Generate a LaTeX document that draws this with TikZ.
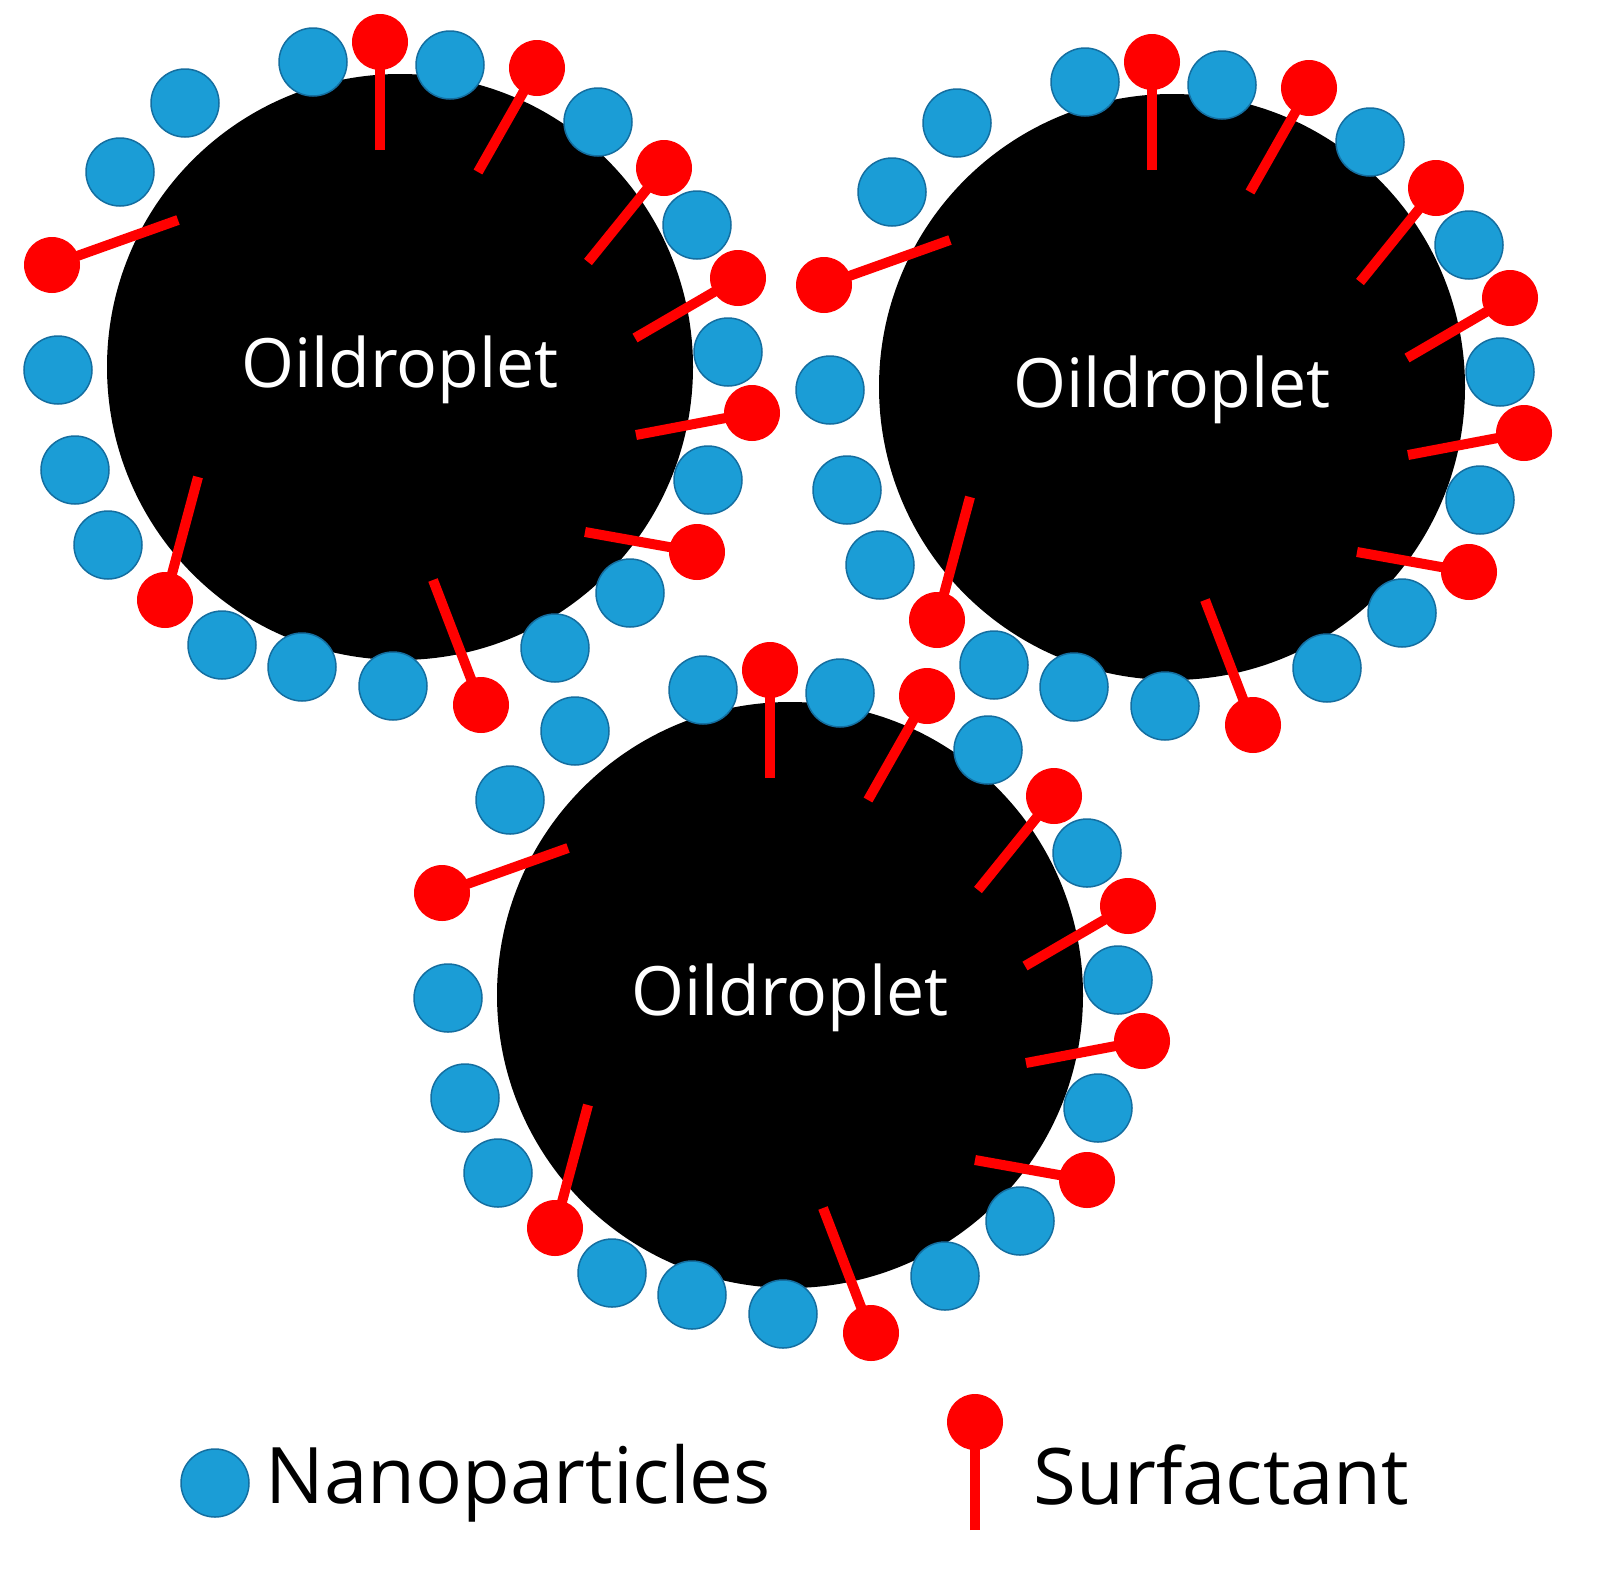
\documentclass[tikz,border=0pt]{standalone}
\usepackage{fontspec}
\setmainfont{Open Sans}
\definecolor{np}{RGB}{27,157,214}
\definecolor{npd}{RGB}{20,110,160}
\definecolor{sf}{RGB}{255,0,0}
\tikzset{
 nano/.style={fill=np,draw=npd,line width=1.5pt},
 tail/.style={draw=sf,line width=10pt},
 head/.style={fill=sf},
 lbl/.style={text=white,font=\fontsize{68}{80}\selectfont}
}
\newcommand{\droplet}{%
 \fill[black] (400,367) circle (293);
 \foreach \x/\y in {313/62,450/65,185/103,120/172,598/122,697/225,728/352,58/370,75/470,708/480,108/545,630/593,222/645,302/667,393/686,555/648}
   \draw[nano] (\x,\y) circle (34);
 \foreach \a/\b/\c/\d in {380/150/380/42,478/172/537/68,588/262/664/168,635/338/738/278,636/435/752/413,585/532/697/552,433/580/481/705,198/477/165/600,178/220/52/265}
   {\draw[tail] (\a,\b) -- (\c,\d); \fill[head] (\c,\d) circle (28);}
 \node[lbl] at (400,370) {Oildroplet};
}
\begin{document}
\begin{tikzpicture}[x=1pt,y=-1pt]
\useasboundingbox (0,0) rectangle (1598,1593);
\begin{scope}\droplet\end{scope}
\begin{scope}[shift={(772,20)}]\droplet\end{scope}
\begin{scope}[shift={(390,628)}]\droplet\end{scope}
\draw[nano] (215,1483) circle (34);
\node[anchor=west,font=\fontsize{78}{90}\selectfont] (n) at (262,1483) {Nanoparticles};
\draw[tail] (975,1530) -- (975,1422);
\fill[head] (975,1422) circle (28);
\node[anchor=west,font=\fontsize{78}{90}\selectfont] (s) at (1030,1475) {Surfactant};
\end{tikzpicture}
\end{document}
